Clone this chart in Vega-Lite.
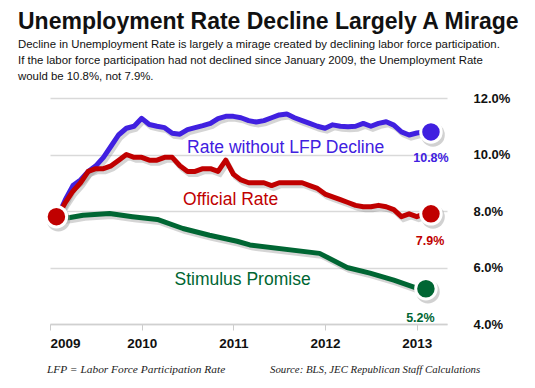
{
  "$schema": "https://vega.github.io/schema/vega-lite/v6.json",
  "width": 397,
  "height": 226,
  "autosize": {"type": "none"},
  "padding": {"left": 50, "top": 98, "right": 88, "bottom": 64},
  "background": "white",
  "title": {
    "text": "Unemployment Rate Decline Largely A Mirage",
    "subtitle": [
      "Decline in Unemployment Rate is largely a mirage created by declining labor force participation.",
      "If the labor force participation had not declined since January 2009, the Unemployment Rate",
      "would be 10.8%, not 7.9%."
    ],
    "anchor": "start",
    "frame": "group",
    "dx": -32,
    "offset": 10,
    "font": "Liberation Sans",
    "fontSize": 23,
    "fontWeight": "bold",
    "color": "#111111",
    "subtitleFont": "Liberation Sans",
    "subtitleFontSize": 11.4,
    "subtitleColor": "#111111",
    "subtitleLineHeight": 16,
    "subtitlePadding": 5
  },
  "datasets": {
    "blue": [
      {"year": 2009.083, "rate": 7.8}, {"year": 2009.167, "rate": 8.4}, {"year": 2009.25, "rate": 8.9},
      {"year": 2009.333, "rate": 9.1}, {"year": 2009.417, "rate": 9.4}, {"year": 2009.5, "rate": 9.6},
      {"year": 2009.583, "rate": 9.9}, {"year": 2009.667, "rate": 10.3}, {"year": 2009.75, "rate": 10.7},
      {"year": 2009.833, "rate": 10.93}, {"year": 2009.917, "rate": 11.0}, {"year": 2010.0, "rate": 11.28},
      {"year": 2010.083, "rate": 11.06}, {"year": 2010.167, "rate": 11.0}, {"year": 2010.25, "rate": 10.95},
      {"year": 2010.333, "rate": 10.75}, {"year": 2010.417, "rate": 10.72}, {"year": 2010.5, "rate": 10.88},
      {"year": 2010.583, "rate": 10.95}, {"year": 2010.667, "rate": 11.02}, {"year": 2010.75, "rate": 11.1},
      {"year": 2010.833, "rate": 11.27}, {"year": 2010.917, "rate": 11.35}, {"year": 2011.0, "rate": 11.35},
      {"year": 2011.083, "rate": 11.3}, {"year": 2011.167, "rate": 11.2}, {"year": 2011.25, "rate": 11.15},
      {"year": 2011.333, "rate": 11.2}, {"year": 2011.417, "rate": 11.3}, {"year": 2011.5, "rate": 11.4},
      {"year": 2011.583, "rate": 11.43}, {"year": 2011.667, "rate": 11.3}, {"year": 2011.75, "rate": 11.2},
      {"year": 2011.833, "rate": 11.1}, {"year": 2011.917, "rate": 11.0}, {"year": 2012.0, "rate": 10.93},
      {"year": 2012.083, "rate": 11.05}, {"year": 2012.167, "rate": 11.0}, {"year": 2012.25, "rate": 10.98},
      {"year": 2012.333, "rate": 11.0}, {"year": 2012.417, "rate": 11.1}, {"year": 2012.5, "rate": 11.0},
      {"year": 2012.583, "rate": 11.1}, {"year": 2012.667, "rate": 11.16}, {"year": 2012.75, "rate": 11.04},
      {"year": 2012.833, "rate": 10.8}, {"year": 2012.917, "rate": 10.69}, {"year": 2013.0, "rate": 10.76},
      {"year": 2013.083, "rate": 10.8}
    ],
    "red": [
      {"year": 2009.083, "rate": 7.8}, {"year": 2009.167, "rate": 8.3}, {"year": 2009.25, "rate": 8.7},
      {"year": 2009.333, "rate": 9.0}, {"year": 2009.417, "rate": 9.4}, {"year": 2009.5, "rate": 9.5},
      {"year": 2009.583, "rate": 9.5}, {"year": 2009.667, "rate": 9.6}, {"year": 2009.75, "rate": 9.8},
      {"year": 2009.833, "rate": 10.0}, {"year": 2009.917, "rate": 9.9}, {"year": 2010.0, "rate": 9.9},
      {"year": 2010.083, "rate": 9.8}, {"year": 2010.167, "rate": 9.8}, {"year": 2010.25, "rate": 9.9},
      {"year": 2010.333, "rate": 9.9}, {"year": 2010.417, "rate": 9.6}, {"year": 2010.5, "rate": 9.4},
      {"year": 2010.583, "rate": 9.4}, {"year": 2010.667, "rate": 9.5}, {"year": 2010.75, "rate": 9.5},
      {"year": 2010.833, "rate": 9.4}, {"year": 2010.917, "rate": 9.8}, {"year": 2011.0, "rate": 9.3},
      {"year": 2011.083, "rate": 9.1}, {"year": 2011.167, "rate": 9.0}, {"year": 2011.25, "rate": 9.0},
      {"year": 2011.333, "rate": 9.0}, {"year": 2011.417, "rate": 8.9}, {"year": 2011.5, "rate": 9.0},
      {"year": 2011.583, "rate": 9.0}, {"year": 2011.667, "rate": 9.0}, {"year": 2011.75, "rate": 9.0},
      {"year": 2011.833, "rate": 8.9}, {"year": 2011.917, "rate": 8.8}, {"year": 2012.0, "rate": 8.6},
      {"year": 2012.083, "rate": 8.5}, {"year": 2012.167, "rate": 8.4}, {"year": 2012.25, "rate": 8.3},
      {"year": 2012.333, "rate": 8.2}, {"year": 2012.417, "rate": 8.15}, {"year": 2012.5, "rate": 8.15},
      {"year": 2012.583, "rate": 8.2}, {"year": 2012.667, "rate": 8.15}, {"year": 2012.75, "rate": 8.05},
      {"year": 2012.833, "rate": 7.8}, {"year": 2012.917, "rate": 7.9}, {"year": 2013.0, "rate": 7.8},
      {"year": 2013.083, "rate": 7.9}
    ],
    "green": [
      {"year": 2009.083, "rate": 7.72}, {"year": 2009.22, "rate": 7.77}, {"year": 2009.36, "rate": 7.85},
      {"year": 2009.65, "rate": 7.91}, {"year": 2009.9, "rate": 7.8}, {"year": 2010.17, "rate": 7.7},
      {"year": 2010.45, "rate": 7.38}, {"year": 2010.74, "rate": 7.14}, {"year": 2011.04, "rate": 6.93},
      {"year": 2011.18, "rate": 6.8}, {"year": 2011.94, "rate": 6.5}, {"year": 2012.24, "rate": 6.0},
      {"year": 2012.49, "rate": 5.8}, {"year": 2012.75, "rate": 5.55}, {"year": 2013.0, "rate": 5.27}
    ],
    "dots": [
      {"year": 2009.07, "rate": 7.8, "series": "Official"},
      {"year": 2013.155, "rate": 10.8, "series": "LFP"},
      {"year": 2013.155, "rate": 7.9, "series": "Official"},
      {"year": 2013.1, "rate": 5.25, "series": "Stimulus"}
    ]
  },
  "layer": [
    {
      "data": {"name": "green"},
      "mark": {"type": "line", "color": "#888888", "opacity": 0.35, "strokeWidth": 5, "xOffset": 2, "yOffset": 3},
      "encoding": {
        "x": {"field": "year", "type": "quantitative", "scale": {"domain": [2009, 2013.33], "nice": false, "zero": false},
          "axis": {"values": [2009, 2010, 2011, 2012, 2013], "format": "d", "grid": false, "title": null,
            "labelFont": "Liberation Sans", "labelFontSize": 13.5, "labelFontWeight": "bold", "labelColor": "#111111",
            "labelPadding": 6, "labelDx": 3, "tickColor": "#cccccc", "tickSize": 6, "domainColor": "#d0d0d0", "domainWidth": 1.5}},
        "y": {"field": "rate", "type": "quantitative", "scale": {"domain": [4, 12], "nice": false, "zero": false},
          "axis": {"orient": "right", "values": [4, 6, 8, 10, 12], "labelExpr": "format(datum.value, '.1f') + '%'",
            "title": null, "grid": true, "gridColor": "#d9d9d9", "gridWidth": 1.5, "ticks": false, "domain": false,
            "labelFont": "Liberation Sans", "labelFontSize": 13, "labelFontWeight": "bold", "labelColor": "#111111",
            "labelPadding": 26}}
      }
    },
    {
      "data": {"name": "blue"},
      "mark": {"type": "line", "color": "#888888", "opacity": 0.35, "strokeWidth": 5, "xOffset": 2, "yOffset": 3},
      "encoding": {"x": {"field": "year", "type": "quantitative"}, "y": {"field": "rate", "type": "quantitative"}}
    },
    {
      "data": {"name": "red"},
      "mark": {"type": "line", "color": "#888888", "opacity": 0.35, "strokeWidth": 5, "xOffset": 2, "yOffset": 3},
      "encoding": {"x": {"field": "year", "type": "quantitative"}, "y": {"field": "rate", "type": "quantitative"}}
    },
    {
      "data": {"name": "green"},
      "mark": {"type": "line", "color": "#006633", "strokeWidth": 5, "strokeJoin": "round"},
      "encoding": {"x": {"field": "year", "type": "quantitative"}, "y": {"field": "rate", "type": "quantitative"}}
    },
    {
      "data": {"name": "blue"},
      "mark": {"type": "line", "color": "#4020E0", "strokeWidth": 5, "strokeJoin": "round"},
      "encoding": {"x": {"field": "year", "type": "quantitative"}, "y": {"field": "rate", "type": "quantitative"}}
    },
    {
      "data": {"name": "red"},
      "mark": {"type": "line", "color": "#C00000", "strokeWidth": 5, "strokeJoin": "round"},
      "encoding": {"x": {"field": "year", "type": "quantitative"}, "y": {"field": "rate", "type": "quantitative"}}
    },
    {
      "data": {"name": "dots"},
      "mark": {"type": "circle", "size": 560, "color": "#999999", "opacity": 0.45, "xOffset": 2, "yOffset": 3},
      "encoding": {"x": {"field": "year", "type": "quantitative"}, "y": {"field": "rate", "type": "quantitative"}}
    },
    {
      "data": {"name": "dots"},
      "mark": {"type": "circle", "size": 420, "opacity": 1, "stroke": "white", "strokeWidth": 3},
      "encoding": {
        "x": {"field": "year", "type": "quantitative"},
        "y": {"field": "rate", "type": "quantitative"},
        "color": {"field": "series", "type": "nominal", "scale": {"domain": ["LFP", "Official", "Stimulus"], "range": ["#4020E0", "#C00000", "#006633"]}, "legend": null}
      }
    },
    {
      "data": {"values": [{}]},
      "mark": {"type": "text", "text": "Rate without LFP Decline", "font": "Liberation Sans", "fontSize": 17.5, "color": "#4020E0", "align": "center", "baseline": "middle"},
      "encoding": {"x": {"datum": 2011.57}, "y": {"datum": 10.23}}
    },
    {
      "data": {"values": [{}]},
      "mark": {"type": "text", "text": "Official Rate", "font": "Liberation Sans", "fontSize": 17.5, "color": "#C00000", "align": "center", "baseline": "middle"},
      "encoding": {"x": {"datum": 2010.97}, "y": {"datum": 8.38}}
    },
    {
      "data": {"values": [{}]},
      "mark": {"type": "text", "text": "Stimulus Promise", "font": "Liberation Sans", "fontSize": 17.5, "color": "#006633", "align": "center", "baseline": "middle"},
      "encoding": {"x": {"datum": 2011.1}, "y": {"datum": 5.55}}
    },
    {
      "data": {"values": [{}]},
      "mark": {"type": "text", "text": "10.8%", "font": "Liberation Sans", "fontWeight": "bold", "fontSize": 12.5, "color": "#4020E0", "align": "center", "baseline": "middle"},
      "encoding": {"x": {"datum": 2013.155}, "y": {"datum": 9.87}}
    },
    {
      "data": {"values": [{}]},
      "mark": {"type": "text", "text": "7.9%", "font": "Liberation Sans", "fontWeight": "bold", "fontSize": 12.5, "color": "#C00000", "align": "center", "baseline": "middle"},
      "encoding": {"x": {"datum": 2013.145}, "y": {"datum": 6.93}}
    },
    {
      "data": {"values": [{}]},
      "mark": {"type": "text", "text": "5.2%", "font": "Liberation Sans", "fontWeight": "bold", "fontSize": 12.5, "color": "#006633", "align": "center", "baseline": "middle"},
      "encoding": {"x": {"datum": 2013.04}, "y": {"datum": 4.23}}
    },
    {
      "data": {"values": [{}]},
      "mark": {"type": "text", "text": "LFP = Labor Force Participation Rate", "font": "Liberation Serif", "fontStyle": "italic", "fontSize": 11.4, "color": "#222222", "align": "left", "baseline": "middle"},
      "encoding": {"x": {"datum": 2008.967}, "y": {"datum": 2.355}}
    },
    {
      "data": {"values": [{}]},
      "mark": {"type": "text", "text": "Source:  BLS, JEC Republican Staff Calculations", "font": "Liberation Serif", "fontStyle": "italic", "fontSize": 10.8, "color": "#222222", "align": "left", "baseline": "middle"},
      "encoding": {"x": {"datum": 2011.4}, "y": {"datum": 2.355}}
    }
  ],
  "config": {"view": {"stroke": null}}
}
